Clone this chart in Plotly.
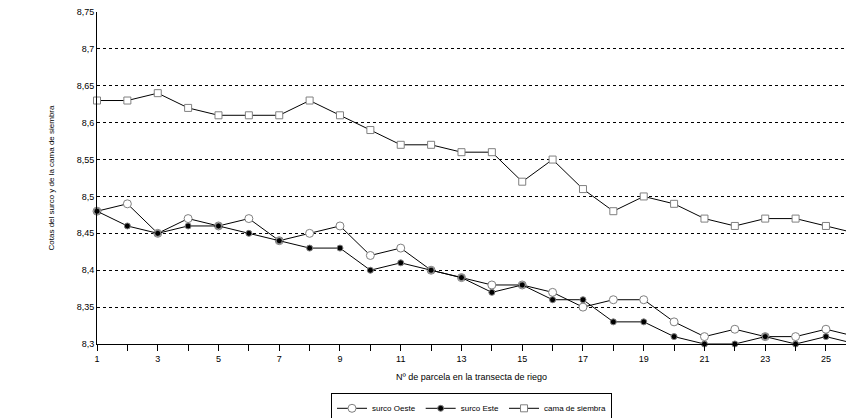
import plotly.graph_objects as go

x = list(range(1, 27))
oeste = [8.48,8.49,8.45,8.47,8.46,8.47,8.44,8.45,8.46,8.42,8.43,8.40,8.39,8.38,8.38,8.37,8.35,8.36,8.36,8.33,8.31,8.32,8.31,8.31,8.32,8.31]
este = [8.48,8.46,8.45,8.46,8.46,8.45,8.44,8.43,8.43,8.40,8.41,8.40,8.39,8.37,8.38,8.36,8.36,8.33,8.33,8.31,8.30,8.30,8.31,8.30,8.31,8.30]
cama = [8.63,8.63,8.64,8.62,8.61,8.61,8.61,8.63,8.61,8.59,8.57,8.57,8.56,8.56,8.52,8.55,8.51,8.48,8.50,8.49,8.47,8.46,8.47,8.47,8.46,8.45]
yticks = [8.3,8.35,8.4,8.45,8.5,8.55,8.6,8.65,8.7,8.75]

fig = go.Figure()
fig.add_trace(go.Scatter(x=x, y=oeste, name="surco Oeste", mode="lines+markers",
    line=dict(color="black", width=1), cliponaxis=False,
    marker=dict(symbol="circle", size=8, color="white", line=dict(color="#808080", width=1))))
fig.add_trace(go.Scatter(x=x, y=este, name="surco Este", mode="lines+markers",
    line=dict(color="black", width=1), cliponaxis=False,
    marker=dict(symbol="circle", size=6, color="black", line=dict(color="#808080", width=1))))
fig.add_trace(go.Scatter(x=x, y=cama, name="cama de siembra", mode="lines+markers",
    line=dict(color="black", width=1), cliponaxis=False,
    marker=dict(symbol="square", size=7, color="white", line=dict(color="#808080", width=1))))

fig.update_layout(
    width=846, height=418, margin=dict(l=97, r=0, t=12, b=74, autoexpand=False),
    paper_bgcolor="white", plot_bgcolor="white",
    font=dict(family="Arial, Liberation Sans", size=9, color="black"),
    showlegend=True,
    legend=dict(orientation="h", x=0.5, xanchor="center", y=-0.147, yanchor="top",
                bordercolor="black", borderwidth=1, font=dict(size=8),
                itemwidth=30, tracegroupgap=0),
    xaxis=dict(range=[1, 25.66], tickmode="array", tickvals=x, automargin=False,
               ticktext=[str(v) if v % 2 == 1 else "" for v in x],
               ticks="outside", ticklen=6, tickcolor="black", showgrid=False,
               showline=True, linecolor="black", linewidth=1, zeroline=False,
               title=dict(text="Nº de parcela en la transecta de riego", standoff=10, font=dict(size=9))),
    yaxis=dict(range=[8.3, 8.75], tickmode="array", tickvals=yticks, automargin=False,
               ticktext=[f"{v:.2f}".rstrip("0").replace(".", ",") for v in yticks],
               showgrid=True, gridcolor="black", griddash="dot", gridwidth=1,
               showline=True, linecolor="black", linewidth=1, zeroline=False,
               ticks="", title=dict(text="Cotas del surco y de la cama de siembra", standoff=20, font=dict(size=8))),
)
fig.write_html("out.html", config={"displayModeBar": False},
               post_script="document.body.style.margin='0';")
